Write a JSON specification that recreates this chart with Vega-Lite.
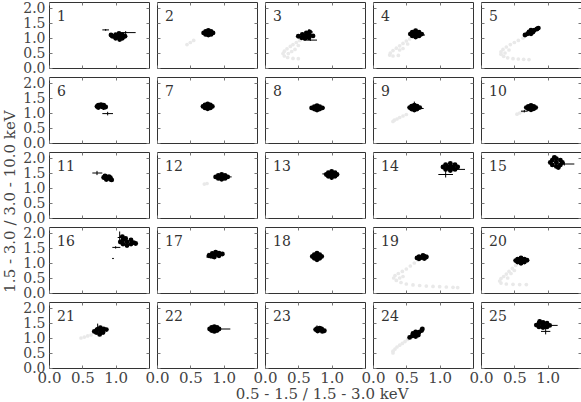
{
"$schema":"https://vega.github.io/schema/vega-lite/v6.json",
"padding":{"left":2,"top":1,"right":0,"bottom":0},
"background":"white",
"config":{
 "font":"DejaVu Serif",
 "view":{"stroke":"#333","strokeWidth":1},
 "title":{"fontSize":15,"fontWeight":"normal","color":"#444","font":"DejaVu Serif"},
 "header":{"labels":false,"title":null,"labelPadding":0,"titlePadding":0,"labelFontSize":0,"labelExpr":"''"},
 "headerFacet":{"labels":false,"title":null,"labelPadding":0,"labelFontSize":0,"labelExpr":"''"},
 "axis":{"labelFont":"DejaVu Serif","labelFontSize":15,"labelColor":"#444","labelPadding":3,"ticks":false,"domain":false,"labelOverlap":false,"labelFlush":false,"labelBound":false,"title":null},
 "axisX":{"labelOverlap":false,"gridDash":[3,60],"gridColor":"#777","grid":true,"labelPadding":1},
 "axisY":{"labelOverlap":false,"gridDash":[3,94],"gridColor":"#777","grid":true,"labelFontSize":14}
},
"title":{"text":"1.5 - 3.0 / 3.0 - 10.0 keV","orient":"left","anchor":"middle","offset":5},
"hconcat":[{
 "title":{"text":"0.5 - 1.5 / 1.5 - 3.0 keV","orient":"bottom","anchor":"middle","offset":2,"dx":20},
 "data":{"values":[
{"p":1,"k":"b","x":1.05,"y":1.05},{"p":1,"k":"b","x":1.0,"y":1.11},{"p":1,"k":"b","x":1.1,"y":1.11},{"p":1,"k":"b","x":1.0,"y":0.99},{"p":1,"k":"b","x":1.1,"y":0.99},{"p":1,"k":"b","x":0.95,"y":1.06},{"p":1,"k":"b","x":1.14,"y":1.06},{"p":1,"k":"b","x":1.05,"y":1.15},{"p":1,"k":"b","x":1.06,"y":0.95},{"p":1,"k":"b","x":0.93,"y":1.1},
{"p":1,"k":"e","x":0.85,"y":1.27,"x1":0.8,"x2":0.9,"y1":1.24,"y2":1.3},{"p":1,"k":"e","x":1.15,"y":1.18,"x1":1.02,"x2":1.3,"y1":1.13,"y2":1.23},{"p":1,"k":"e","x":1.06,"y":1.02,"x1":0.98,"x2":1.14,"y1":0.9,"y2":1.14},
{"p":2,"k":"b","x":0.77,"y":1.17},{"p":2,"k":"b","x":0.73,"y":1.22},{"p":2,"k":"b","x":0.81,"y":1.22},{"p":2,"k":"b","x":0.73,"y":1.12},{"p":2,"k":"b","x":0.81,"y":1.12},{"p":2,"k":"b","x":0.7,"y":1.17},{"p":2,"k":"b","x":0.84,"y":1.17},{"p":2,"k":"b","x":0.77,"y":1.25},{"p":2,"k":"b","x":0.77,"y":1.1},
{"p":2,"k":"e","x":0.77,"y":1.17,"x1":0.7,"x2":0.84,"y1":1.1,"y2":1.24},
{"p":2,"k":"g","x":0.55,"y":0.92},{"p":2,"k":"g","x":0.5,"y":0.85},{"p":2,"k":"g","x":0.45,"y":0.78},
{"p":3,"k":"b","x":0.61,"y":1.07},{"p":3,"k":"b","x":0.56,"y":1.12},{"p":3,"k":"b","x":0.66,"y":1.12},{"p":3,"k":"b","x":0.55,"y":1.01},{"p":3,"k":"b","x":0.66,"y":1.01},{"p":3,"k":"b","x":0.5,"y":1.06},{"p":3,"k":"b","x":0.72,"y":1.07},{"p":3,"k":"b","x":0.62,"y":1.17},{"p":3,"k":"b","x":0.6,"y":0.98},{"p":3,"k":"b","x":0.67,"y":1.2},
{"p":3,"k":"e","x":0.66,"y":1.2,"x1":0.6,"x2":0.72,"y1":1.1,"y2":1.3},{"p":3,"k":"e","x":0.68,"y":0.93,"x1":0.62,"x2":0.78,"y1":0.9,"y2":0.96},{"p":3,"k":"e","x":0.6,"y":1.05,"x1":0.5,"x2":0.72,"y1":0.98,"y2":1.12},
{"p":3,"k":"g","x":0.58,"y":0.97},{"p":3,"k":"g","x":0.52,"y":0.92},{"p":3,"k":"g","x":0.47,"y":0.85},{"p":3,"k":"g","x":0.42,"y":0.78},{"p":3,"k":"g","x":0.38,"y":0.72},{"p":3,"k":"g","x":0.33,"y":0.64},{"p":3,"k":"g","x":0.29,"y":0.56},{"p":3,"k":"g","x":0.27,"y":0.48},{"p":3,"k":"g","x":0.29,"y":0.4},{"p":3,"k":"g","x":0.34,"y":0.35},{"p":3,"k":"g","x":0.42,"y":0.32},{"p":3,"k":"g","x":0.5,"y":0.31},{"p":3,"k":"g","x":0.45,"y":0.62},{"p":3,"k":"g","x":0.4,"y":0.55},{"p":3,"k":"g","x":0.35,"y":0.48},{"p":3,"k":"g","x":0.5,"y":0.75},
{"p":4,"k":"b","x":0.64,"y":1.13},{"p":4,"k":"b","x":0.59,"y":1.19},{"p":4,"k":"b","x":0.69,"y":1.19},{"p":4,"k":"b","x":0.59,"y":1.07},{"p":4,"k":"b","x":0.69,"y":1.07},{"p":4,"k":"b","x":0.56,"y":1.13},{"p":4,"k":"b","x":0.73,"y":1.13},{"p":4,"k":"b","x":0.64,"y":1.24},{"p":4,"k":"b","x":0.64,"y":1.03},
{"p":4,"k":"e","x":0.72,"y":1.1,"x1":0.65,"x2":0.78,"y1":1.05,"y2":1.15},{"p":4,"k":"e","x":0.62,"y":1.2,"x1":0.55,"x2":0.68,"y1":1.12,"y2":1.3},
{"p":4,"k":"g","x":0.55,"y":0.97},{"p":4,"k":"g","x":0.5,"y":0.9},{"p":4,"k":"g","x":0.45,"y":0.82},{"p":4,"k":"g","x":0.4,"y":0.74},{"p":4,"k":"g","x":0.35,"y":0.66},{"p":4,"k":"g","x":0.3,"y":0.58},{"p":4,"k":"g","x":0.26,"y":0.5},{"p":4,"k":"g","x":0.25,"y":0.43},{"p":4,"k":"g","x":0.3,"y":0.4},{"p":4,"k":"g","x":0.38,"y":0.42},{"p":4,"k":"g","x":0.45,"y":0.65},{"p":4,"k":"g","x":0.4,"y":0.6},{"p":4,"k":"g","x":0.52,"y":0.8},
{"p":5,"k":"b","x":0.75,"y":1.2},{"p":5,"k":"b","x":0.7,"y":1.14},{"p":5,"k":"b","x":0.66,"y":1.1},{"p":5,"k":"b","x":0.8,"y":1.26},{"p":5,"k":"b","x":0.84,"y":1.3},{"p":5,"k":"b","x":0.72,"y":1.2},{"p":5,"k":"b","x":0.78,"y":1.2},{"p":5,"k":"b","x":0.75,"y":1.26},{"p":5,"k":"b","x":0.75,"y":1.14},{"p":5,"k":"b","x":0.86,"y":1.33},
{"p":5,"k":"e","x":0.83,"y":1.3,"x1":0.78,"x2":0.88,"y1":1.24,"y2":1.36},
{"p":5,"k":"g","x":0.63,"y":1.0},{"p":5,"k":"g","x":0.56,"y":0.92},{"p":5,"k":"g","x":0.5,"y":0.85},{"p":5,"k":"g","x":0.44,"y":0.78},{"p":5,"k":"g","x":0.38,"y":0.7},{"p":5,"k":"g","x":0.33,"y":0.62},{"p":5,"k":"g","x":0.3,"y":0.54},{"p":5,"k":"g","x":0.3,"y":0.46},{"p":5,"k":"g","x":0.34,"y":0.39},{"p":5,"k":"g","x":0.4,"y":0.34},{"p":5,"k":"g","x":0.48,"y":0.31},{"p":5,"k":"g","x":0.56,"y":0.3},{"p":5,"k":"g","x":0.64,"y":0.29},{"p":5,"k":"g","x":0.72,"y":0.28},{"p":5,"k":"g","x":0.36,"y":0.5},{"p":5,"k":"g","x":0.42,"y":0.6},
{"p":6,"k":"b","x":0.78,"y":1.22},{"p":6,"k":"b","x":0.74,"y":1.26},{"p":6,"k":"b","x":0.82,"y":1.26},{"p":6,"k":"b","x":0.74,"y":1.18},{"p":6,"k":"b","x":0.82,"y":1.18},{"p":6,"k":"b","x":0.72,"y":1.22},{"p":6,"k":"b","x":0.85,"y":1.2},{"p":6,"k":"b","x":0.78,"y":1.28},
{"p":6,"k":"e","x":0.88,"y":0.98,"x1":0.8,"x2":0.96,"y1":0.92,"y2":1.04},{"p":6,"k":"e","x":0.82,"y":1.15,"x1":0.78,"x2":0.86,"y1":1.1,"y2":1.2},
{"p":7,"k":"b","x":0.76,"y":1.22},{"p":7,"k":"b","x":0.72,"y":1.27},{"p":7,"k":"b","x":0.8,"y":1.27},{"p":7,"k":"b","x":0.72,"y":1.17},{"p":7,"k":"b","x":0.8,"y":1.17},{"p":7,"k":"b","x":0.69,"y":1.22},{"p":7,"k":"b","x":0.83,"y":1.22},{"p":7,"k":"b","x":0.76,"y":1.3},{"p":7,"k":"b","x":0.76,"y":1.14},
{"p":7,"k":"e","x":0.78,"y":1.25,"x1":0.72,"x2":0.84,"y1":1.16,"y2":1.34},
{"p":8,"k":"b","x":0.78,"y":1.17},{"p":8,"k":"b","x":0.74,"y":1.21},{"p":8,"k":"b","x":0.82,"y":1.21},{"p":8,"k":"b","x":0.74,"y":1.13},{"p":8,"k":"b","x":0.82,"y":1.13},{"p":8,"k":"b","x":0.7,"y":1.17},{"p":8,"k":"b","x":0.86,"y":1.17},{"p":8,"k":"b","x":0.78,"y":1.24},{"p":8,"k":"b","x":0.78,"y":1.1},
{"p":8,"k":"e","x":0.8,"y":1.17,"x1":0.7,"x2":0.9,"y1":1.12,"y2":1.22},
{"p":9,"k":"b","x":0.62,"y":1.18},{"p":9,"k":"b","x":0.58,"y":1.23},{"p":9,"k":"b","x":0.66,"y":1.23},{"p":9,"k":"b","x":0.58,"y":1.13},{"p":9,"k":"b","x":0.66,"y":1.13},{"p":9,"k":"b","x":0.55,"y":1.18},{"p":9,"k":"b","x":0.7,"y":1.18},{"p":9,"k":"b","x":0.62,"y":1.26},{"p":9,"k":"b","x":0.62,"y":1.1},
{"p":9,"k":"e","x":0.62,"y":1.25,"x1":0.56,"x2":0.68,"y1":1.15,"y2":1.38},{"p":9,"k":"e","x":0.68,"y":1.15,"x1":0.6,"x2":0.76,"y1":1.1,"y2":1.2},
{"p":9,"k":"g","x":0.5,"y":0.95},{"p":9,"k":"g","x":0.45,"y":0.9},{"p":9,"k":"g","x":0.4,"y":0.85},{"p":9,"k":"g","x":0.36,"y":0.8},{"p":9,"k":"g","x":0.32,"y":0.76},{"p":9,"k":"g","x":0.3,"y":0.72},
{"p":10,"k":"b","x":0.75,"y":1.18},{"p":10,"k":"b","x":0.71,"y":1.22},{"p":10,"k":"b","x":0.79,"y":1.22},{"p":10,"k":"b","x":0.71,"y":1.14},{"p":10,"k":"b","x":0.79,"y":1.14},{"p":10,"k":"b","x":0.68,"y":1.18},{"p":10,"k":"b","x":0.82,"y":1.18},{"p":10,"k":"b","x":0.75,"y":1.25},{"p":10,"k":"b","x":0.75,"y":1.11},
{"p":10,"k":"e","x":0.65,"y":1.06,"x1":0.6,"x2":0.7,"y1":1.02,"y2":1.1},
{"p":10,"k":"g","x":0.62,"y":1.05},{"p":10,"k":"g","x":0.58,"y":1.0},{"p":10,"k":"g","x":0.54,"y":0.96},
{"p":11,"k":"b","x":0.88,"y":1.33},{"p":11,"k":"b","x":0.84,"y":1.4},{"p":11,"k":"b","x":0.86,"y":1.37},{"p":11,"k":"b","x":0.92,"y":1.29},{"p":11,"k":"b","x":0.94,"y":1.27},{"p":11,"k":"b","x":0.82,"y":1.35},{"p":11,"k":"b","x":0.9,"y":1.38},{"p":11,"k":"b","x":0.86,"y":1.28},{"p":11,"k":"b","x":0.92,"y":1.34},
{"p":11,"k":"e","x":0.72,"y":1.5,"x1":0.65,"x2":0.8,"y1":1.43,"y2":1.57},
{"p":12,"k":"b","x":0.97,"y":1.37},{"p":12,"k":"b","x":0.92,"y":1.42},{"p":12,"k":"b","x":1.02,"y":1.42},{"p":12,"k":"b","x":0.92,"y":1.32},{"p":12,"k":"b","x":1.02,"y":1.32},{"p":12,"k":"b","x":0.88,"y":1.37},{"p":12,"k":"b","x":1.06,"y":1.37},{"p":12,"k":"b","x":0.97,"y":1.45},{"p":12,"k":"b","x":0.97,"y":1.29},
{"p":12,"k":"e","x":1.05,"y":1.37,"x1":0.98,"x2":1.12,"y1":1.3,"y2":1.44},
{"p":12,"k":"g","x":0.71,"y":1.13},{"p":12,"k":"g","x":0.75,"y":1.15},
{"p":13,"k":"b","x":1.0,"y":1.45},{"p":13,"k":"b","x":0.95,"y":1.51},{"p":13,"k":"b","x":1.05,"y":1.51},{"p":13,"k":"b","x":0.95,"y":1.39},{"p":13,"k":"b","x":1.05,"y":1.39},{"p":13,"k":"b","x":0.92,"y":1.45},{"p":13,"k":"b","x":1.08,"y":1.45},{"p":13,"k":"b","x":1.0,"y":1.55},{"p":13,"k":"b","x":1.0,"y":1.35},
{"p":13,"k":"e","x":0.92,"y":1.47,"x1":0.86,"x2":0.98,"y1":1.42,"y2":1.52},{"p":13,"k":"e","x":1.0,"y":1.35,"x1":0.96,"x2":1.04,"y1":1.27,"y2":1.42},
{"p":14,"k":"b","x":1.16,"y":1.7},{"p":14,"k":"b","x":1.09,"y":1.78},{"p":14,"k":"b","x":1.23,"y":1.78},{"p":14,"k":"b","x":1.09,"y":1.62},{"p":14,"k":"b","x":1.23,"y":1.62},{"p":14,"k":"b","x":1.05,"y":1.7},{"p":14,"k":"b","x":1.27,"y":1.7},{"p":14,"k":"b","x":1.16,"y":1.82},{"p":14,"k":"b","x":1.16,"y":1.58},{"p":14,"k":"b","x":1.12,"y":1.7},{"p":14,"k":"b","x":1.2,"y":1.7},
{"p":14,"k":"e","x":1.09,"y":1.45,"x1":0.98,"x2":1.2,"y1":1.35,"y2":1.58},{"p":14,"k":"e","x":1.2,"y":1.62,"x1":1.08,"x2":1.38,"y1":1.57,"y2":1.67},
{"p":15,"k":"b","x":1.13,"y":1.85},{"p":15,"k":"b","x":1.07,"y":1.93},{"p":15,"k":"b","x":1.19,"y":1.93},{"p":15,"k":"b","x":1.07,"y":1.77},{"p":15,"k":"b","x":1.19,"y":1.77},{"p":15,"k":"b","x":1.04,"y":1.85},{"p":15,"k":"b","x":1.22,"y":1.85},{"p":15,"k":"b","x":1.13,"y":1.98},{"p":15,"k":"b","x":1.13,"y":1.72},{"p":15,"k":"b","x":1.1,"y":2.02},{"p":15,"k":"b","x":1.16,"y":1.68},
{"p":15,"k":"e","x":1.25,"y":1.8,"x1":1.15,"x2":1.4,"y1":1.75,"y2":1.85},{"p":15,"k":"e","x":1.12,"y":1.9,"x1":1.08,"x2":1.16,"y1":1.78,"y2":2.08},
{"p":16,"k":"b","x":1.17,"y":1.7},{"p":16,"k":"b","x":1.11,"y":1.77},{"p":16,"k":"b","x":1.23,"y":1.77},{"p":16,"k":"b","x":1.11,"y":1.63},{"p":16,"k":"b","x":1.23,"y":1.63},{"p":16,"k":"b","x":1.07,"y":1.7},{"p":16,"k":"b","x":1.27,"y":1.68},{"p":16,"k":"b","x":1.15,"y":1.82},{"p":16,"k":"b","x":1.17,"y":1.58},{"p":16,"k":"b","x":1.1,"y":1.88},{"p":16,"k":"b","x":1.3,"y":1.65},
{"p":16,"k":"e","x":1.06,"y":1.85,"x1":1.03,"x2":1.09,"y1":1.7,"y2":2.05},{"p":16,"k":"e","x":1.0,"y":1.52,"x1":0.95,"x2":1.07,"y1":1.48,"y2":1.56},{"p":16,"k":"e","x":0.96,"y":1.15,"x1":0.95,"x2":0.97,"y1":1.13,"y2":1.17},
{"p":17,"k":"b","x":0.88,"y":1.28},{"p":17,"k":"b","x":0.83,"y":1.32},{"p":17,"k":"b","x":0.93,"y":1.33},{"p":17,"k":"b","x":0.83,"y":1.22},{"p":17,"k":"b","x":0.93,"y":1.24},{"p":17,"k":"b","x":0.78,"y":1.24},{"p":17,"k":"b","x":0.98,"y":1.3},{"p":17,"k":"b","x":0.88,"y":1.36},{"p":17,"k":"b","x":0.86,"y":1.2},
{"p":17,"k":"e","x":0.83,"y":1.32,"x1":0.76,"x2":0.9,"y1":1.27,"y2":1.37},{"p":17,"k":"e","x":0.8,"y":1.2,"x1":0.74,"x2":0.86,"y1":1.15,"y2":1.25},
{"p":18,"k":"b","x":0.78,"y":1.22},{"p":18,"k":"b","x":0.74,"y":1.28},{"p":18,"k":"b","x":0.82,"y":1.28},{"p":18,"k":"b","x":0.74,"y":1.16},{"p":18,"k":"b","x":0.82,"y":1.16},{"p":18,"k":"b","x":0.71,"y":1.22},{"p":18,"k":"b","x":0.85,"y":1.22},{"p":18,"k":"b","x":0.78,"y":1.33},{"p":18,"k":"b","x":0.78,"y":1.11},
{"p":19,"k":"b","x":0.73,"y":1.18},{"p":19,"k":"b","x":0.69,"y":1.21},{"p":19,"k":"b","x":0.77,"y":1.22},{"p":19,"k":"b","x":0.69,"y":1.14},{"p":19,"k":"b","x":0.77,"y":1.15},{"p":19,"k":"b","x":0.66,"y":1.17},{"p":19,"k":"b","x":0.8,"y":1.2},{"p":19,"k":"b","x":0.75,"y":1.25},
{"p":19,"k":"e","x":0.78,"y":1.22,"x1":0.74,"x2":0.83,"y1":1.15,"y2":1.3},
{"p":19,"k":"g","x":0.67,"y":1.1},{"p":19,"k":"g","x":0.62,"y":1.0},{"p":19,"k":"g","x":0.56,"y":0.9},{"p":19,"k":"g","x":0.5,"y":0.8},{"p":19,"k":"g","x":0.44,"y":0.72},{"p":19,"k":"g","x":0.38,"y":0.65},{"p":19,"k":"g","x":0.33,"y":0.58},{"p":19,"k":"g","x":0.31,"y":0.5},{"p":19,"k":"g","x":0.35,"y":0.42},{"p":19,"k":"g","x":0.42,"y":0.35},{"p":19,"k":"g","x":0.5,"y":0.3},{"p":19,"k":"g","x":0.6,"y":0.27},{"p":19,"k":"g","x":0.7,"y":0.25},{"p":19,"k":"g","x":0.8,"y":0.23},{"p":19,"k":"g","x":0.9,"y":0.22},{"p":19,"k":"g","x":1.0,"y":0.21},{"p":19,"k":"g","x":1.1,"y":0.2},{"p":19,"k":"g","x":1.2,"y":0.19},{"p":19,"k":"g","x":1.27,"y":0.18},{"p":19,"k":"g","x":0.45,"y":0.55},{"p":19,"k":"g","x":0.4,"y":0.5},
{"p":20,"k":"b","x":0.6,"y":1.08},{"p":20,"k":"b","x":0.55,"y":1.13},{"p":20,"k":"b","x":0.65,"y":1.13},{"p":20,"k":"b","x":0.55,"y":1.03},{"p":20,"k":"b","x":0.65,"y":1.03},{"p":20,"k":"b","x":0.52,"y":1.08},{"p":20,"k":"b","x":0.69,"y":1.09},{"p":20,"k":"b","x":0.6,"y":1.17},{"p":20,"k":"b","x":0.6,"y":0.99},
{"p":20,"k":"g","x":0.52,"y":0.92},{"p":20,"k":"g","x":0.47,"y":0.82},{"p":20,"k":"g","x":0.42,"y":0.72},{"p":20,"k":"g","x":0.38,"y":0.63},{"p":20,"k":"g","x":0.34,"y":0.55},{"p":20,"k":"g","x":0.3,"y":0.48},{"p":20,"k":"g","x":0.28,"y":0.4},{"p":20,"k":"g","x":0.3,"y":0.33},{"p":20,"k":"g","x":0.38,"y":0.3},{"p":20,"k":"g","x":0.48,"y":0.29},{"p":20,"k":"g","x":0.58,"y":0.28},{"p":20,"k":"g","x":0.68,"y":0.28},{"p":20,"k":"g","x":0.45,"y":0.65},{"p":20,"k":"g","x":0.5,"y":0.75},{"p":20,"k":"g","x":0.4,"y":0.5},
{"p":21,"k":"b","x":0.77,"y":1.23},{"p":21,"k":"b","x":0.72,"y":1.28},{"p":21,"k":"b","x":0.82,"y":1.3},{"p":21,"k":"b","x":0.71,"y":1.18},{"p":21,"k":"b","x":0.81,"y":1.18},{"p":21,"k":"b","x":0.68,"y":1.22},{"p":21,"k":"b","x":0.86,"y":1.28},{"p":21,"k":"b","x":0.77,"y":1.34},{"p":21,"k":"b","x":0.76,"y":1.12},
{"p":21,"k":"e","x":0.73,"y":1.35,"x1":0.71,"x2":0.75,"y1":1.25,"y2":1.48},
{"p":21,"k":"g","x":0.63,"y":1.1},{"p":21,"k":"g","x":0.58,"y":1.07},{"p":21,"k":"g","x":0.53,"y":1.03},{"p":21,"k":"g","x":0.48,"y":1.0},
{"p":22,"k":"b","x":0.86,"y":1.3},{"p":22,"k":"b","x":0.82,"y":1.35},{"p":22,"k":"b","x":0.9,"y":1.35},{"p":22,"k":"b","x":0.82,"y":1.25},{"p":22,"k":"b","x":0.9,"y":1.25},{"p":22,"k":"b","x":0.79,"y":1.3},{"p":22,"k":"b","x":0.93,"y":1.3},{"p":22,"k":"b","x":0.86,"y":1.38},{"p":22,"k":"b","x":0.86,"y":1.22},
{"p":22,"k":"e","x":0.95,"y":1.3,"x1":0.88,"x2":1.1,"y1":1.26,"y2":1.34},
{"p":23,"k":"b","x":0.82,"y":1.27},{"p":23,"k":"b","x":0.78,"y":1.31},{"p":23,"k":"b","x":0.85,"y":1.3},{"p":23,"k":"b","x":0.79,"y":1.23},{"p":23,"k":"b","x":0.86,"y":1.22},{"p":23,"k":"b","x":0.76,"y":1.28},{"p":23,"k":"b","x":0.89,"y":1.24},{"p":23,"k":"b","x":0.82,"y":1.33},
{"p":23,"k":"e","x":0.78,"y":1.33,"x1":0.76,"x2":0.8,"y1":1.25,"y2":1.42},
{"p":24,"k":"b","x":0.64,"y":1.13},{"p":24,"k":"b","x":0.59,"y":1.07},{"p":24,"k":"b","x":0.55,"y":1.02},{"p":24,"k":"b","x":0.69,"y":1.19},{"p":24,"k":"b","x":0.73,"y":1.25},{"p":24,"k":"b","x":0.6,"y":1.15},{"p":24,"k":"b","x":0.68,"y":1.1},{"p":24,"k":"b","x":0.64,"y":1.2},{"p":24,"k":"b","x":0.64,"y":1.05},{"p":24,"k":"b","x":0.74,"y":1.3},
{"p":24,"k":"g","x":0.52,"y":0.95},{"p":24,"k":"g","x":0.48,"y":0.88},{"p":24,"k":"g","x":0.44,"y":0.82},{"p":24,"k":"g","x":0.4,"y":0.76},{"p":24,"k":"g","x":0.36,"y":0.7},{"p":24,"k":"g","x":0.33,"y":0.63},{"p":24,"k":"g","x":0.3,"y":0.56},{"p":24,"k":"g","x":0.3,"y":0.5},
{"p":25,"k":"b","x":0.93,"y":1.43},{"p":25,"k":"b","x":0.87,"y":1.49},{"p":25,"k":"b","x":0.99,"y":1.49},{"p":25,"k":"b","x":0.87,"y":1.37},{"p":25,"k":"b","x":0.99,"y":1.37},{"p":25,"k":"b","x":0.83,"y":1.43},{"p":25,"k":"b","x":1.03,"y":1.42},{"p":25,"k":"b","x":0.93,"y":1.52},{"p":25,"k":"b","x":0.93,"y":1.35},{"p":25,"k":"b","x":0.88,"y":1.55},
{"p":25,"k":"e","x":0.97,"y":1.22,"x1":0.9,"x2":1.04,"y1":1.12,"y2":1.35},{"p":25,"k":"e","x":1.03,"y":1.42,"x1":0.95,"x2":1.15,"y1":1.38,"y2":1.46},{"p":25,"k":"e","x":0.88,"y":1.5,"x1":0.85,"x2":0.91,"y1":1.42,"y2":1.62}
 ]},
 "facet":{"field":"p","type":"ordinal","title":null,"header":{"labels":false,"title":null,"labelPadding":0,"labelExpr":"''"}},
 "columns":5,
 "spacing":{"column":6,"row":7},
 "spec":{
  "width":100,"height":66,
  "layer":[
   {"transform":[{"filter":"datum.k=='g'"}],
    "mark":{"type":"circle","size":14,"color":"#e9e9e9","opacity":1,"clip":true},
    "encoding":{
     "x":{"field":"x","type":"quantitative","scale":{"domain":[0,1.5],"nice":false,"zero":false},"axis":{"values":[0,0.5,1.0],"format":".1f","labelOverlap":false,"labelFlush":false,"labelBound":false,"grid":true,"gridDash":[3,60],"gridColor":"#777"}},
     "y":{"field":"y","type":"quantitative","scale":{"domain":[0,2.2],"nice":false,"zero":false},"axis":{"tickCount":5,"format":".1f","labelOverlap":false,"labelFlush":false,"labelBound":false,"grid":true,"gridDash":[3,94],"gridColor":"#777"}}}},
   {"transform":[{"filter":"datum.k=='e'"}],
    "mark":{"type":"rule","color":"#000","strokeWidth":1,"clip":true},
    "encoding":{"x":{"field":"x1","type":"quantitative"},"x2":{"field":"x2"},"y":{"field":"y","type":"quantitative"}}},
   {"transform":[{"filter":"datum.k=='e'"}],
    "mark":{"type":"rule","color":"#000","strokeWidth":1,"clip":true},
    "encoding":{"x":{"field":"x","type":"quantitative"},"y":{"field":"y1","type":"quantitative"},"y2":{"field":"y2"}}},
   {"transform":[{"filter":"datum.k=='b'"}],
    "mark":{"type":"circle","size":24,"color":"#000","opacity":1,"clip":true},
    "encoding":{"x":{"field":"x","type":"quantitative"},"y":{"field":"y","type":"quantitative"}}},
   {"transform":[{"aggregate":[{"op":"count","as":"n"}],"groupby":["p"]}],
    "mark":{"type":"text","align":"left","baseline":"alphabetic","fontSize":14,"color":"#333","font":"DejaVu Serif"},
    "encoding":{"x":{"datum":0.12},"y":{"datum":1.57},"text":{"field":"p","type":"nominal"}}}
  ]
 }
}]
}
